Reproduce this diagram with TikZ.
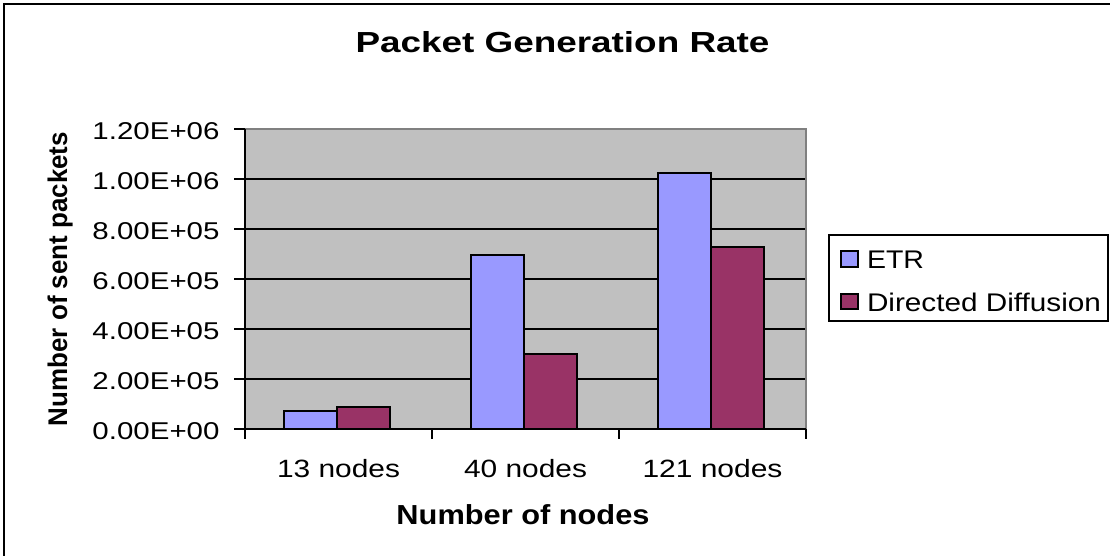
\documentclass[tikz,border=0pt]{standalone}
\usepackage{fontspec}
\usepackage{graphicx}
\setmainfont{Liberation Sans}

\definecolor{plotgray}{HTML}{C0C0C0}
\definecolor{plotedge}{HTML}{808080}
\definecolor{etrblue}{HTML}{9999FF}
\definecolor{ddpurple}{HTML}{993366}

% text set at a given size and stretched to a given width
\newcommand\wtext[3]{{\fontsize{#1}{#1}\selectfont\resizebox{#2}{\height}{#3}}}
\newcommand\wbold[3]{{\fontsize{#1}{#1}\selectfont\bfseries\resizebox{#2}{\height}{#3}}}

\tikzset{
  frameline/.style={line width=2.2pt, black},
  gridline/.style={line width=1.9pt, black},
  axisline/.style={line width=2pt, black},
  barbox/.style={draw=black, line width=2pt},
  etrbar/.style={barbox, fill=etrblue},
  ddbar/.style={barbox, fill=ddpurple},
  txt/.style={inner sep=0pt, outer sep=0pt},
}

\begin{document}
\begin{tikzpicture}[x=1pt, y=-1pt]
\useasboundingbox (0,0) rectangle (1110,556);
\clip (0,0) rectangle (1110,556);

% chart frame (runs past the right and bottom edges)
\draw[frameline] (4,600) -- (4,4) -- (1200,4);

% title
\node[txt, anchor=base] (title) at (562.5,53) {\wbold{29pt}{414pt}{Packet Generation Rate}};

% plot area and gridlines
\fill[plotgray] (245,129) rectangle (806,429);
\foreach \i in {1,...,5}
  \draw[gridline] (245,{429-50*\i}) -- (806,{429-50*\i});
\draw[line width=1.6pt, plotedge] (245,129) -- (806,129) -- (806,429);

% bars: ETR and Directed Diffusion per category
\foreach \c/\a/\b in {0/411/407, 1/255/354, 2/173/247} {
  \pgfmathsetmacro{\xa}{245+187*\c+38.5}
  \draw[etrbar] (\xa,429) rectangle ({\xa+53},\a);
  \draw[ddbar] ({\xa+53},429) rectangle ({\xa+106},\b);
}

% axes and tick marks
\draw[axisline] (245,129) -- (245,429) -- (806,429);
\foreach \i in {0,...,6}
  \draw[axisline] (234,{429-50*\i}) -- (245,{429-50*\i});
\foreach \c in {0,...,3}
  \draw[axisline] ({245+187*\c},429) -- ({245+187*\c},439);

% value labels
\foreach \i/\lab in {0/0.00E+00, 1/2.00E+05, 2/4.00E+05, 3/6.00E+05, 4/8.00E+05, 5/1.00E+06, 6/1.20E+06}
  \node[txt, anchor=base east] (tick\i) at (219.5,{439.5-50*\i}) {\wtext{24.3pt}{127pt}{\lab}};

% category labels
\node[txt, anchor=base] (cat13) at (338.5,477) {\wtext{25pt}{123pt}{13 nodes}};
\node[txt, anchor=base] (cat40) at (525.5,477) {\wtext{25pt}{123pt}{40 nodes}};
\node[txt, anchor=base] (cat121) at (712.5,477) {\wtext{25pt}{140pt}{121 nodes}};

% axis titles
\node[txt, anchor=base] (xtitle) at (523,524) {\wbold{27.5pt}{253pt}{Number of nodes}};
\node[txt, anchor=base, rotate=90] (ytitle) at (67,279) {\wbold{27pt}{294pt}{Number of sent packets}};

% legend
\draw[line width=2pt, black, fill=white] (829,235) rectangle (1108,321);
\draw[etrbar, line width=1.7pt] (841,251) rectangle (858,267);
\draw[ddbar, line width=1.7pt] (841,294) rectangle (858,309);
\node[txt, anchor=base west] (legetr) at (867,268) {\wtext{25.5pt}{57pt}{ETR}};
\node[txt, anchor=base west] (legdd) at (867,311) {\wtext{25.5pt}{234pt}{Directed Diffusion}};
\end{tikzpicture}
\end{document}
